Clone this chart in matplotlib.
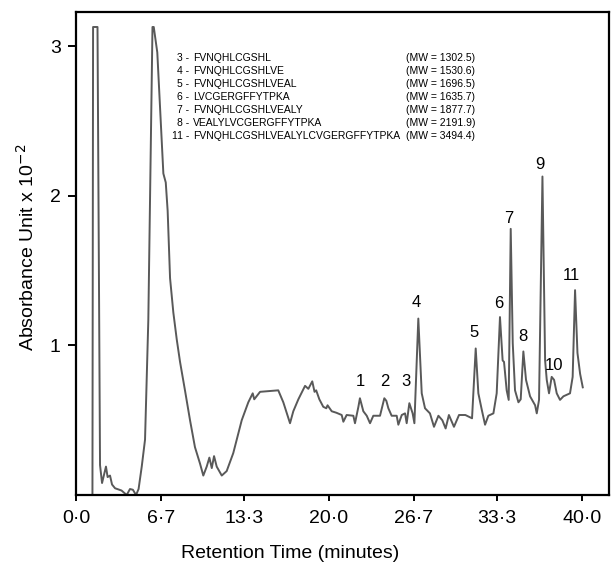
import matplotlib.pyplot as plt

plt.rcParams['font.family'] = ['Liberation Sans', 'DejaVu Sans']

# chromatogram trace (minutes, absorbance x 10^-2)
time = [0.0, 1.30, 1.35, 1.70, 1.90, 2.06, 2.37, 2.50, 2.69, 2.85, 3.09, 3.60, 4.01,
        4.27, 4.50, 4.75, 4.95, 5.20, 5.46, 5.72, 6.05, 6.15, 6.43, 6.91, 7.10, 7.25,
        7.44, 7.70, 7.97, 8.23, 8.62, 9.02, 9.41, 9.81, 10.07, 10.34, 10.55, 10.74,
        10.92, 11.13, 11.53, 11.92, 12.44, 13.11, 13.63, 13.98, 14.10, 14.56, 16.00,
        16.40, 16.93, 17.19, 17.59, 18.12, 18.38, 18.69, 18.87, 19.00, 19.25, 19.56,
        19.80, 19.90, 20.23, 20.60, 21.02, 21.15, 21.41, 21.94, 22.07, 22.34, 22.46,
        22.73, 23.00, 23.26, 23.52, 24.05, 24.39, 24.55, 24.71, 24.97, 25.37, 25.50,
        25.77, 26.03, 26.16, 26.37, 26.63, 26.77, 27.08, 27.35, 27.61, 28.00, 28.32,
        28.67, 28.98, 29.24, 29.50, 29.90, 30.30, 30.80, 31.33, 31.62, 31.83, 32.10,
        32.36, 32.62, 33.02, 33.28, 33.54, 33.75, 33.86, 34.07, 34.23, 34.39, 34.55,
        34.73, 35.00, 35.18, 35.39, 35.60, 35.92, 36.32, 36.45, 36.63, 36.90, 37.11,
        37.24, 37.42, 37.63, 37.82, 38.03, 38.29, 38.56, 39.08, 39.29, 39.48, 39.67,
        39.88, 40.09]
absorbance = [0.0, 0.0, 3.13, 3.13, 0.20, 0.08, 0.19, 0.12, 0.13, 0.07, 0.045, 0.03, 0.0,
              0.04, 0.035, 0.0, 0.04, 0.19, 0.37, 1.17, 3.13, 3.13, 2.96, 2.15, 2.09, 1.90,
              1.45, 1.22, 1.04, 0.89, 0.70, 0.50, 0.32, 0.21, 0.13, 0.19, 0.25, 0.18,
              0.26, 0.19, 0.13, 0.16, 0.28, 0.50, 0.62, 0.68, 0.64, 0.69, 0.70,
              0.62, 0.48, 0.56, 0.64, 0.73, 0.71, 0.76, 0.69, 0.70, 0.64, 0.59,
              0.58, 0.60, 0.56, 0.55, 0.535, 0.49, 0.535, 0.53, 0.48, 0.59, 0.647,
              0.56, 0.53, 0.48, 0.53, 0.53, 0.647, 0.63, 0.58, 0.53, 0.53, 0.47,
              0.535, 0.546, 0.48, 0.614, 0.546, 0.48, 1.18, 0.68, 0.58, 0.546, 0.456,
              0.53, 0.50, 0.445, 0.535, 0.456, 0.535, 0.535, 0.513, 0.98, 0.68, 0.57,
              0.47, 0.53, 0.546, 0.68, 1.19, 0.90, 0.89, 0.70, 0.636, 1.78, 1.015,
              0.70, 0.62, 0.64, 0.96, 0.77, 0.66, 0.60, 0.546, 0.636, 2.13, 0.90,
              0.77, 0.68, 0.79, 0.77, 0.68, 0.636, 0.66, 0.68, 0.79, 1.37, 0.95,
              0.81, 0.72]

# peak numbers and where they sit
peak_labels = ['1', '2', '3', '4', '5', '6', '7', '8', '9', '10', '11']
peak_x = [22.46, 24.39, 26.10, 26.90, 31.51, 33.46, 34.26, 35.34, 36.71, 37.82, 39.21]
peak_y = [0.76, 0.76, 0.76, 1.29, 1.086, 1.28, 1.85, 1.06, 2.21, 0.865, 1.47]

# peptide key
key_ids = ['3', '4', '5', '6', '7', '8', '11']
key_seqs = ['FVNQHLCGSHL', 'FVNQHLCGSHLVE', 'FVNQHLCGSHLVEAL', 'LVCGERGFFYTPKA',
            'FVNQHLCGSHLVEALY', 'VEALYLVCGERGFFYTPKA', 'FVNQHLCGSHLVEALYLCVGERGFFYTPKA']
key_mw = ['1302.5', '1530.6', '1696.5', '1635.7', '1877.7', '2191.9', '3494.4']

xticks = [0, 6.7, 13.3, 20.0, 26.7, 33.3, 40.0]
xticklabels = ['0·0', '6·7', '13·3', '20·0', '26·7', '33·3', '40·0']

fig = plt.figure(figsize=(6.12, 5.65), dpi=100)
ax = fig.add_axes([0.1242, 0.1239, 0.871, 0.854])

ax.plot(time, absorbance, color='#595959', lw=1.4)

for lab, x, y in zip(peak_labels, peak_x, peak_y):
    ax.text(x, y, lab, ha='center', va='center', fontsize=12, color='black')

# key text block
y0 = 2.92
dy = 0.0866
for i, (n, s, mw) in enumerate(zip(key_ids, key_seqs, key_mw)):
    y = y0 - i * dy
    ax.text(8.95, y, n + ' -', ha='right', va='center', fontsize=7.5)
    ax.text(9.23, y, s, ha='left', va='center', fontsize=7.5)
    ax.text(26.1, y, '(MW = ' + mw + ')', ha='left', va='center', fontsize=7.5)

ax.set_xlim(0, 42.17)
ax.set_ylim(0, 3.227)
ax.set_xticks(xticks)
ax.set_xticklabels(xticklabels)
ax.set_yticks([1, 2, 3])
ax.tick_params(axis='both', labelsize=14, width=1.4, direction='out')
ax.tick_params(axis='x', length=4.5, pad=6)
ax.tick_params(axis='y', length=6, pad=5)
for sp in ax.spines.values():
    sp.set_linewidth(1.6)

fig.text(290 / 612, 1 - 553 / 565, 'Retention Time (minutes)', ha='center', va='center',
         fontsize=14)
fig.text(27 / 612, 1 - 247 / 565, 'Absorbance Unit x 10$^{-2}$', ha='center', va='center',
         rotation=90, fontsize=14)

fig.savefig('out.png', dpi=100)
